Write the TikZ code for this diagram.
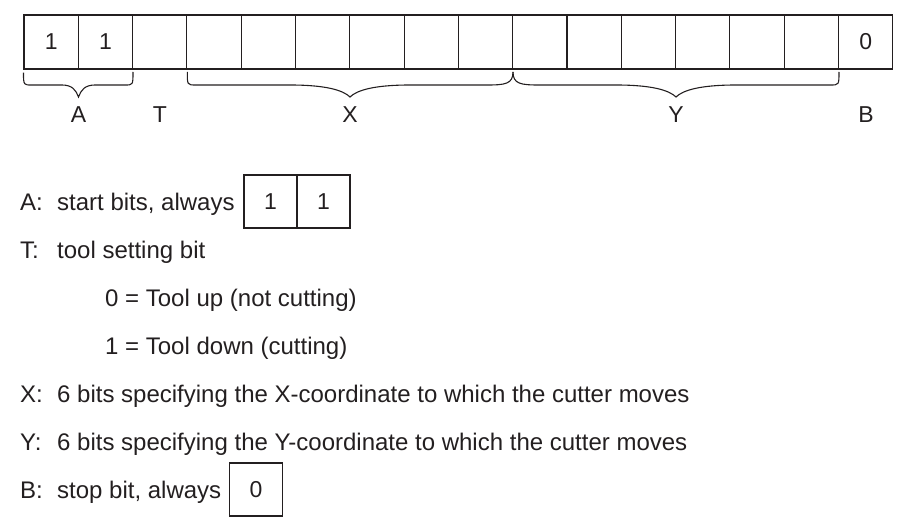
\documentclass[tikz,border=0pt]{standalone}
\usepackage{fontspec}
\setmainfont{Liberation Sans}
\definecolor{ink}{HTML}{231F20}
\begin{document}
\begin{tikzpicture}[x=1pt,y=-1pt,
  cell/.style={draw=ink,line width=1.1pt,minimum width=54.3pt,minimum height=54pt,inner sep=0pt,text=ink,font=\fontsize{23}{26}\selectfont},
  scell/.style={draw=ink,line width=1.1pt,minimum width=53pt,minimum height=53pt,inner sep=0pt,text=ink,font=\fontsize{23}{26}\selectfont},
  lbl/.style={text=ink,font=\fontsize{23}{26}\selectfont,inner sep=0pt,anchor=base},
  txt/.style={text=ink,font=\fontsize{24}{28}\selectfont,inner sep=0pt,anchor=base west},
  brc/.style={draw=ink,line width=1.1pt}]
\useasboundingbox (0,0) rectangle (908,532);
% top row of 16 cells
\foreach \i/\t in {1/1,2/1,3/,4/,5/,6/,7/,8/,9/,10/,11/,12/,13/,14/,15/,16/0}{
  \node[cell] (c\i) at ({24+54.3*(\i-0.5)},42) {\t};
}
% braces
\draw[brc] (c1.south west) ++(0,3) .. controls ++(0,13) and (24,85) .. (32,85) -- (62,85)
  .. controls (72,85) and (76,90) .. (78.5,97) .. controls (81,90) and (85,85) .. (95,85)
  -- (125,85) .. controls (133,85) and (133,85) .. (133,72);
\draw[brc] (187.3,72) .. controls (187.3,85) and (187.3,85) .. (196,85) -- (290,85)
  .. controls (325,85) and (343,90) .. (350,97) .. controls (357,90) and (375,85) .. (410,85)
  -- (487,85) .. controls (505,85) and (513,84) .. (513,72);
\draw[brc] (513,72) .. controls (513,84) and (521,85) .. (539,85) -- (616,85)
  .. controls (651,85) and (669,90) .. (676,97) .. controls (683,90) and (701,85) .. (736,85)
  -- (830,85) .. controls (839,85) and (839,85) .. (839,72);
% group labels
\node[lbl] (lA) at (78.5,123) {A};
\node[lbl] (lT) at (160,123) {T};
\node[lbl] (lX) at (350,123) {X};
\node[lbl] (lY) at (676,123) {Y};
\node[lbl] (lB) at (866,123) {B};
% legend
\node[txt] (kA) at (20,210) {A:};
\node[txt] (dA) at (57,210) {start bits, always};
\node[scell] (a1) at (270.5,201.5) {1};
\node[scell] (a2) at (323.5,201.5) {1};
\node[txt] (kT) at (20,258) {T:};
\node[txt] (dT) at (57,258) {tool setting bit};
\node[txt] (d0) at (105,306) {0 = Tool up (not cutting)};
\node[txt] (d1) at (105,354) {1 = Tool down (cutting)};
\node[txt] (kX) at (20,402) {X:};
\node[txt] (dX) at (57,402) {6 bits specifying the X-coordinate to which the cutter moves};
\node[txt] (kY) at (20,450) {Y:};
\node[txt] (dY) at (57,450) {6 bits specifying the Y-coordinate to which the cutter moves};
\node[txt] (kB) at (20,498) {B:};
\node[txt] (dB) at (57,498) {stop bit, always};
\node[scell] (b1) at (256,489.5) {0};
\end{tikzpicture}
\end{document}
